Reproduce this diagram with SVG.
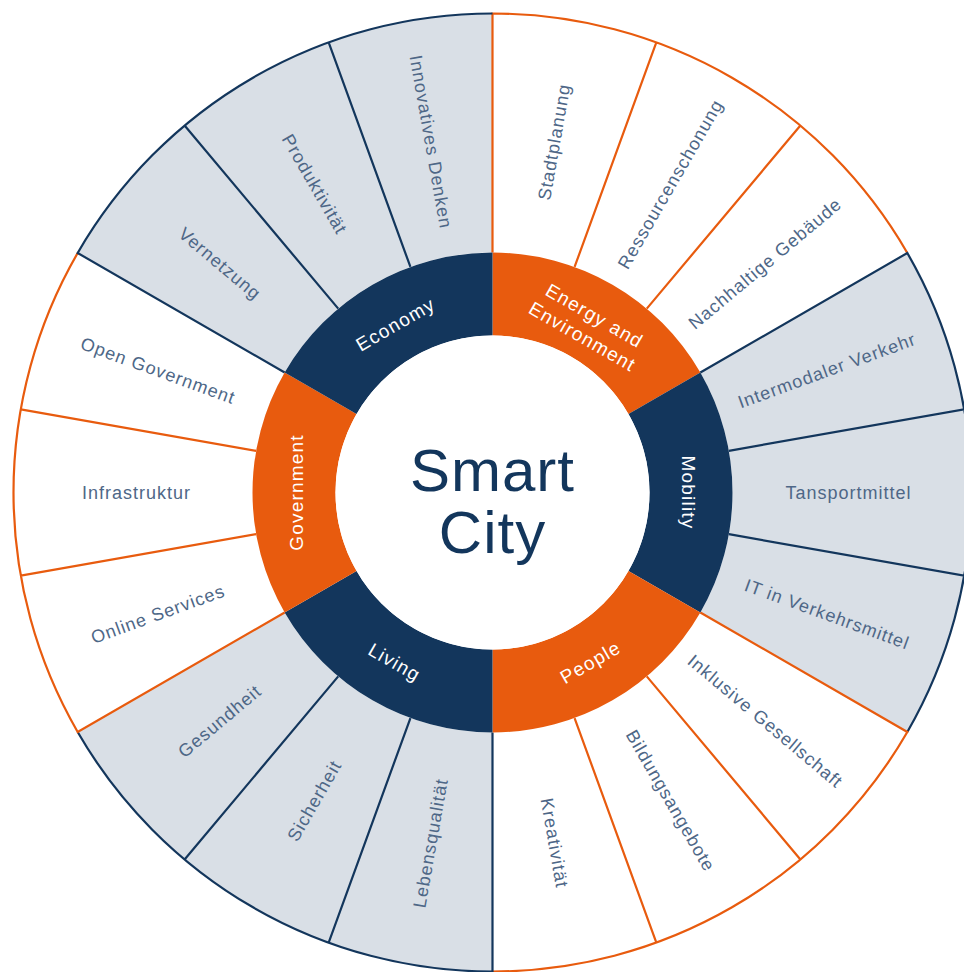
<svg xmlns="http://www.w3.org/2000/svg" width="964" height="972" viewBox="0 0 964 972">
<style>
.wf{fill:#ffffff}
.gf{fill:#d9dfe6}
.os{fill:none;stroke:#e85b0e;stroke-width:2.2}
.ns{fill:none;stroke:#13365c;stroke-width:2.2}
.orf{fill:#e85b0e}
.nvf{fill:#13365c}
.lbl{font-family:"Liberation Sans",Arial,sans-serif;font-size:18px;letter-spacing:1px;fill:#4e6787;text-anchor:middle;dominant-baseline:central}
.rl{font-family:"Liberation Sans",Arial,sans-serif;font-size:19px;letter-spacing:1.2px;fill:#ffffff;text-anchor:middle;dominant-baseline:central}
.ct{font-family:"Liberation Sans",Arial,sans-serif;font-size:60px;letter-spacing:1px;fill:#13365c;text-anchor:middle}
</style>
<rect width="964" height="972" fill="#ffffff"/>
<g transform="translate(492.5,492.5)">
  <g id="economy">
    <path class="gf" d="M-236.35,-41.68 L-471.72,-83.18 A479,479 0 0 1 -414.83,-239.5 L-207.85,-120 A240,240 0 0 0 -236.35,-41.68 Z"/>
    <path class="gf" d="M-207.85,-120 L-414.83,-239.5 A479,479 0 0 1 -307.9,-366.93 L-154.27,-183.85 A240,240 0 0 0 -207.85,-120 Z"/>
    <path class="gf" d="M-154.27,-183.85 L-307.9,-366.93 A479,479 0 0 1 -163.83,-450.11 L-82.08,-225.53 A240,240 0 0 0 -154.27,-183.85 Z"/>
    <path class="gf" d="M-82.08,-225.53 L-163.83,-450.11 A479,479 0 0 1 0,-479 L0,-240 A240,240 0 0 0 -82.08,-225.53 Z"/>
  </g>
  <g id="energy">
    <path class="wf" d="M0,-240 L0,-479 A479,479 0 0 1 414.83,-239.5 L207.85,-120 A240,240 0 0 0 0,-240 Z"/>
  </g>
  <g id="mobility">
    <path class="gf" d="M207.85,-120 L414.83,-239.5 A479,479 0 0 1 414.83,239.5 L207.85,120 A240,240 0 0 0 207.85,-120 Z"/>
  </g>
  <g id="people">
    <path class="wf" d="M207.85,120 L414.83,239.5 A479,479 0 0 1 0,479 L0,240 A240,240 0 0 0 207.85,120 Z"/>
  </g>
  <g id="living">
    <path class="gf" d="M0,240 L0,479 A479,479 0 0 1 -414.83,239.5 L-207.85,120 A240,240 0 0 0 0,240 Z"/>
  </g>
  <g id="government">
    <path class="wf" d="M-207.85,120 L-414.83,239.5 A479,479 0 0 1 -414.83,-239.5 L-207.85,-120 A240,240 0 0 0 -207.85,120 Z"/>
  </g>
  <g id="connectors">
    <path class="os" d="M0,-240 L0,-479 A479,479 0 0 1 414.83,-239.5 M82.08,-225.53 L163.83,-450.11 M154.27,-183.85 L307.9,-366.93"/>
    <path class="ns" d="M207.85,-120 L414.83,-239.5 A479,479 0 0 1 414.83,239.5 M236.35,-41.68 L471.72,-83.18 M236.35,41.68 L471.72,83.18"/>
    <path class="os" d="M207.85,120 L414.83,239.5 A479,479 0 0 1 0,479 M154.27,183.85 L307.9,366.93 M82.08,225.53 L163.83,450.11"/>
    <path class="ns" d="M0,240 L0,479 A479,479 0 0 1 -414.83,239.5 M-82.08,225.53 L-163.83,450.11 M-154.27,183.85 L-307.9,366.93"/>
    <path class="os" d="M-207.85,120 L-414.83,239.5 A479,479 0 0 1 -414.83,-239.5 M-236.35,41.68 L-471.72,83.18 M-236.35,-41.68 L-471.72,-83.18"/>
    <path class="ns" d="M-207.85,-120 L-414.83,-239.5 A479,479 0 0 1 0,-479 M-154.27,-183.85 L-307.9,-366.93 M-82.08,-225.53 L-163.83,-450.11"/>
  </g>
  <g id="ring-energy">
    <path class="orf" d="M0,-240 A240,240 0 0 1 207.85,-120 L135.97,-78.5 A157,157 0 0 0 0,-157 Z"/>
    <text class="rl" transform="translate(102,-176.67) rotate(30)">Energy and</text>
    <text class="rl" transform="translate(90,-155.89) rotate(30)">Environment</text>
  </g>
  <g id="ring-mobility">
    <path class="nvf" d="M207.85,-120 A240,240 0 0 1 207.85,120 L135.97,78.5 A157,157 0 0 0 135.97,-78.5 Z"/>
    <text class="rl" transform="translate(196,0) rotate(90)">Mobility</text>
  </g>
  <g id="ring-people">
    <path class="orf" d="M207.85,120 A240,240 0 0 1 0,240 L0,157 A157,157 0 0 0 135.97,78.5 Z"/>
    <text class="rl" transform="translate(98,169.74) rotate(-30)">People</text>
  </g>
  <g id="ring-living">
    <path class="nvf" d="M0,240 A240,240 0 0 1 -207.85,120 L-135.97,78.5 A157,157 0 0 0 0,157 Z"/>
    <text class="rl" transform="translate(-98,169.74) rotate(30)">Living</text>
  </g>
  <g id="ring-government">
    <path class="orf" d="M-207.85,120 A240,240 0 0 1 -207.85,-120 L-135.97,-78.5 A157,157 0 0 0 -135.97,78.5 Z"/>
    <text class="rl" transform="translate(-196,0) rotate(-90)">Government</text>
  </g>
  <g id="ring-economy">
    <path class="nvf" d="M-207.85,-120 A240,240 0 0 1 0,-240 L0,-157 A157,157 0 0 0 -135.97,-78.5 Z"/>
    <text class="rl" transform="translate(-97,-168.01) rotate(-30)">Economy</text>
  </g>
  <g id="center">
    <circle r="157" fill="#ffffff"/>
    <text class="ct" x="0" y="-2">Smart</text>
    <text class="ct" x="0" y="60">City</text>
  </g>
  <g id="labels">
    <text class="lbl" transform="translate(61.82,-350.59) rotate(-80)">Stadtplanung</text>
    <text class="lbl" transform="translate(178,-308.31) rotate(-60)">Ressourcenschonung</text>
    <text class="lbl" transform="translate(272.71,-228.83) rotate(-40)">Nachhaltige Gebäude</text>
    <text class="lbl" transform="translate(334.53,-121.76) rotate(-20)">Intermodaler Verkehr</text>
    <text class="lbl" transform="translate(356,0)">Tansportmittel</text>
    <text class="lbl" transform="translate(334.53,121.76) rotate(20)">IT in Verkehrsmittel</text>
    <text class="lbl" transform="translate(272.71,228.83) rotate(40)">Inklusive Gesellschaft</text>
    <text class="lbl" transform="translate(178,308.31) rotate(60)">Bildungsangebote</text>
    <text class="lbl" transform="translate(61.82,350.59) rotate(80)">Kreativität</text>
    <text class="lbl" transform="translate(-61.82,350.59) rotate(-80)">Lebensqualität</text>
    <text class="lbl" transform="translate(-178,308.31) rotate(-60)">Sicherheit</text>
    <text class="lbl" transform="translate(-272.71,228.83) rotate(-40)">Gesundheit</text>
    <text class="lbl" transform="translate(-334.53,121.76) rotate(-20)">Online Services</text>
    <text class="lbl" transform="translate(-356,0)">Infrastruktur</text>
    <text class="lbl" transform="translate(-334.53,-121.76) rotate(20)">Open Government</text>
    <text class="lbl" transform="translate(-272.71,-228.83) rotate(40)">Vernetzung</text>
    <text class="lbl" transform="translate(-178,-308.31) rotate(60)">Produktivität</text>
    <text class="lbl" transform="translate(-61.82,-350.59) rotate(80)">Innovatives Denken</text>
  </g>
</g>
</svg>
